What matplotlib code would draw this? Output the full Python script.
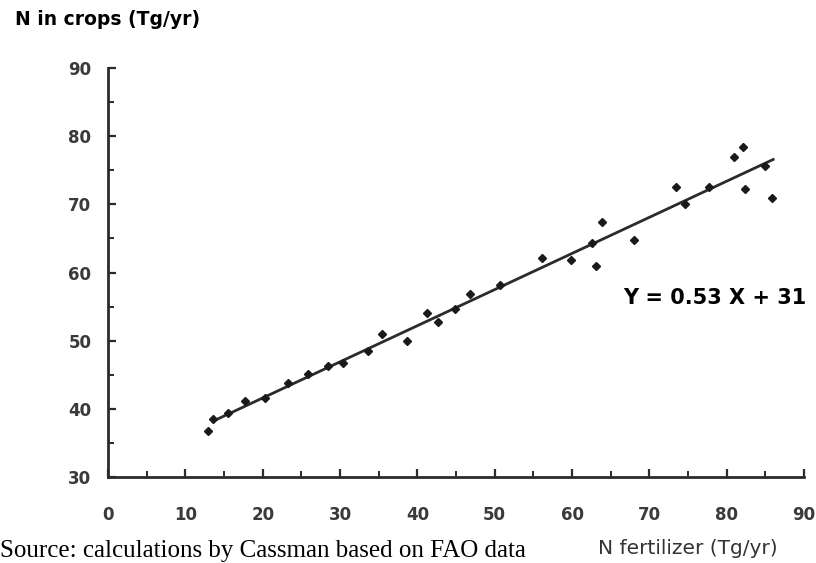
import matplotlib.pyplot as plt
import numpy as np
from matplotlib.ticker import MultipleLocator

# N fertilizer use vs. N removed in crops (Tg/yr)
fertilizer = [12.9, 13.6, 15.5, 17.7, 20.3, 23.3, 25.9, 28.5, 30.4, 33.6,
              35.4, 38.6, 41.3, 42.6, 44.9, 46.8, 50.7, 56.1, 59.8, 62.6,
              63.1, 63.9, 68.0, 73.5, 74.6, 77.7, 80.9, 82.1, 82.4, 85.0, 85.9]
crops = [36.8, 38.5, 39.4, 41.2, 41.6, 43.8, 45.1, 46.3, 46.8, 48.5,
         51.0, 49.9, 54.0, 52.8, 54.7, 56.9, 58.2, 62.1, 61.8, 64.4,
         61.0, 67.4, 64.7, 72.5, 70.1, 72.5, 76.9, 78.4, 72.2, 75.6, 71.0]

# regression given on the chart
slope = 0.53
intercept = 31
fit_range = [13.6, 86.0]

tick_color = '#3a3a3a'

fig = plt.figure(figsize=(8.16, 5.63), dpi=100)
ax = fig.add_axes([0.1324, 0.1527, 0.853, 0.7265])

fit_x = np.array(fit_range)
ax.plot(fit_x, slope * fit_x + intercept, color='#2b2b2b', lw=2.0, zorder=2)
ax.plot(fertilizer, crops, 'D', color='#1a1a1a', ms=4.5, zorder=3)

ax.set_xlim(0, 90)
ax.set_ylim(30, 90)
ax.xaxis.set_major_locator(MultipleLocator(10))
ax.xaxis.set_minor_locator(MultipleLocator(5))
ax.yaxis.set_major_locator(MultipleLocator(10))
ax.yaxis.set_minor_locator(MultipleLocator(5))

ax.spines['top'].set_visible(False)
ax.spines['right'].set_visible(False)
for s in ['left', 'bottom']:
    ax.spines[s].set_linewidth(2.0)
    ax.spines[s].set_color('#2b2b2b')

ax.tick_params(which='major', direction='in', length=6, width=1.6, color='#2b2b2b',
               labelcolor=tick_color, labelsize=12)
ax.tick_params(which='minor', direction='in', length=4.5, width=1.4, color='#2b2b2b')
ax.tick_params(axis='x', which='major', pad=21)
ax.tick_params(axis='y', which='major', pad=12)
for lab in ax.get_xticklabels() + ax.get_yticklabels():
    lab.set_fontweight('bold')

ax.text(78.4, 56.3, 'Y = 0.53 X + 31', ha='center', va='center',
        fontsize=15, fontweight='bold', color='black')

fig.text(0.018, 0.9645, 'N in crops (Tg/yr)', ha='left', va='center',
         fontsize=13.5, fontweight='bold', color='black')
fig.text(0.843, 0.0266, 'N fertilizer (Tg/yr)', ha='center', va='center',
         fontsize=14.5, color='#333333')
fig.text(0.0, 0.002, 'Source: calculations by Cassman based on FAO data',
         ha='left', va='bottom', fontsize=18, family='Liberation Serif', color='black')

fig.savefig('out.png', dpi=100)
